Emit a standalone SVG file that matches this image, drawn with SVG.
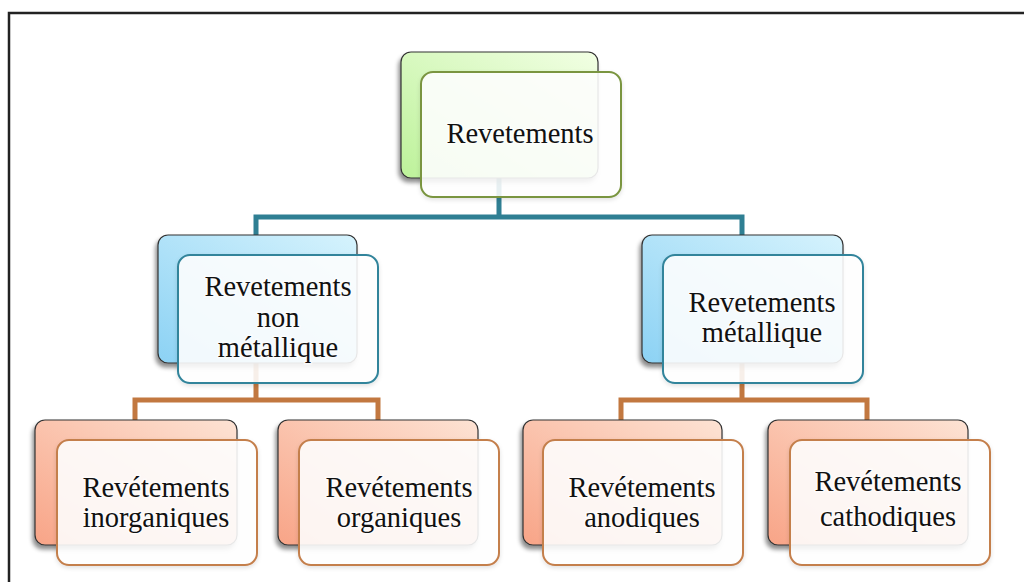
<svg xmlns="http://www.w3.org/2000/svg" width="1024" height="582" viewBox="0 0 1024 582">
<style>
  .back{stroke:#333;stroke-width:1.2}
  .front{fill:#fff;fill-opacity:0.88;stroke-width:2}
  .g .front{stroke:#7A9540}
  .b .front{stroke:#31849B}
  .o .front{stroke:#C47F4C}
  .lbl{font-family:"Liberation Serif","Times New Roman",serif;font-size:28.5px;fill:#111;text-anchor:middle;stroke:#fff;stroke-width:3;stroke-opacity:0.6;paint-order:stroke}
  .conn{fill:none;stroke-width:5;stroke-linejoin:miter}
</style>
<defs>
  <linearGradient id="gg" x1="1" y1="0" x2="0" y2="1">
    <stop offset="0" stop-color="#F2FFE4"/>
    <stop offset="1" stop-color="#BDF29A"/>
  </linearGradient>
  <linearGradient id="gb" x1="1" y1="0" x2="0" y2="1">
    <stop offset="0" stop-color="#D6F3FD"/>
    <stop offset="1" stop-color="#8CD2F4"/>
  </linearGradient>
  <linearGradient id="go" x1="1" y1="0" x2="0" y2="1">
    <stop offset="0" stop-color="#FDE3D4"/>
    <stop offset="1" stop-color="#F8A487"/>
  </linearGradient>
  <filter id="sh" x="-10%" y="-10%" width="120%" height="130%">
    <feDropShadow dx="-2" dy="4" stdDeviation="2" flood-color="#000" flood-opacity="0.45"/>
  </filter>
  <filter id="sh2" x="-10%" y="-10%" width="120%" height="130%">
    <feDropShadow dx="0" dy="2" stdDeviation="2" flood-color="#000" flood-opacity="0.12"/>
  </filter>
</defs>
<rect x="0" y="0" width="1024" height="582" fill="#fff"/>
<path d="M9,582 V13 H1024" fill="none" stroke="#222" stroke-width="2.5"/>

<g id="connectors">
  <path class="conn" stroke="#2F7F93" d="M499,178 V217 M256,236 V217 H742 V236"/>
  <path class="conn" stroke="#C27840" d="M256,363 V400 M135,420 V400 H378 V420"/>
  <path class="conn" stroke="#C27840" d="M742,363 V400 M621,420 V400 H867 V420"/>
</g>

<g id="n-revetements" class="g">
  <rect class="back" x="401" y="52" width="197" height="126" rx="10" fill="url(#gg)" filter="url(#sh)"/>
  <rect class="front" x="421" y="72" width="200" height="125" rx="12" filter="url(#sh2)"/>
  <text class="lbl" x="520" y="143">Revetements</text>
</g>

<g id="n-non-metallique" class="b">
  <rect class="back" x="158" y="235" width="199" height="128" rx="10" fill="url(#gb)" filter="url(#sh)"/>
  <rect class="front" x="178" y="255" width="200" height="128" rx="12" filter="url(#sh2)"/>
  <text class="lbl" x="278" y="296">Revetements</text>
  <text class="lbl" x="278" y="327">non</text>
  <text class="lbl" x="278" y="357">métallique</text>
</g>

<g id="n-metallique" class="b">
  <rect class="back" x="642" y="235" width="201" height="128" rx="10" fill="url(#gb)" filter="url(#sh)"/>
  <rect class="front" x="663" y="255" width="200" height="128" rx="12" filter="url(#sh2)"/>
  <text class="lbl" x="762" y="312">Revetements</text>
  <text class="lbl" x="762" y="342">métallique</text>
</g>

<g id="n-inorganiques" class="o">
  <rect class="back" x="35" y="420" width="202" height="125" rx="10" fill="url(#go)" filter="url(#sh)"/>
  <rect class="front" x="57" y="440" width="200" height="125" rx="12" filter="url(#sh2)"/>
  <text class="lbl" x="156" y="497">Revétements</text>
  <text class="lbl" x="156" y="527">inorganiques</text>
</g>

<g id="n-organiques" class="o">
  <rect class="back" x="278" y="420" width="200" height="125" rx="10" fill="url(#go)" filter="url(#sh)"/>
  <rect class="front" x="299" y="440" width="200" height="125" rx="12" filter="url(#sh2)"/>
  <text class="lbl" x="399" y="497">Revétements</text>
  <text class="lbl" x="399" y="527">organiques</text>
</g>

<g id="n-anodiques" class="o">
  <rect class="back" x="523" y="420" width="199" height="125" rx="10" fill="url(#go)" filter="url(#sh)"/>
  <rect class="front" x="543" y="440" width="200" height="125" rx="12" filter="url(#sh2)"/>
  <text class="lbl" x="642" y="497">Revétements</text>
  <text class="lbl" x="642" y="527">anodiques</text>
</g>

<g id="n-cathodiques" class="o">
  <rect class="back" x="768" y="420" width="200" height="125" rx="10" fill="url(#go)" filter="url(#sh)"/>
  <rect class="front" x="790" y="440" width="200" height="125" rx="12" filter="url(#sh2)"/>
  <text class="lbl" x="888" y="491">Revétements</text>
  <text class="lbl" x="888" y="526">cathodiques</text>
</g>
</svg>
